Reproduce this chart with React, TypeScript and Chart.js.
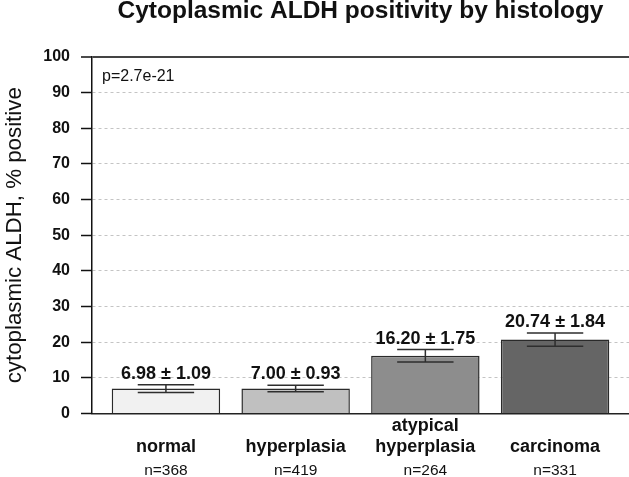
import { useEffect, useRef } from "react";
import { Chart, registerables } from "chart.js";

Chart.register(...registerables);

const chartTitle = "Cytoplasmic ALDH positivity by histology";
const yAxisTitle = "cytoplasmic ALDH, % positive";
const pValueText = "p=2.7e-21";

const categories = ["normal", "hyperplasia", "atypical hyperplasia", "carcinoma"];
const means = [6.98, 7.0, 16.2, 20.74];
const sems = [1.09, 0.93, 1.75, 1.84];
const counts = [368, 419, 264, 331];
const barColors = ["#f1f1f1", "#c0c0c0", "#8d8d8d", "#656565"];
const yMin = 0;
const yMax = 100;
const yStep = 10;

const FONT = "'Liberation Sans', Arial, Helvetica, sans-serif";

const positions = categories.map((_, i) => i + 1);

const categoryLines = (name: string) => {
  const parts = name.split(" ");
  return parts.length > 1 ? parts : ["", name];
};

const errorBarPlugin = {
  id: "errorBars",
  afterDatasetsDraw(chart: any) {
    const ctx = chart.ctx;
    const y = chart.scales.y;
    const meta = chart.getDatasetMeta(0);
    ctx.save();
    meta.data.forEach((el: any, i: number) => {
      const hi = y.getPixelForValue(means[i] + sems[i]);
      const lo = y.getPixelForValue(means[i] - sems[i]);
      const capW = el.width * 0.52;
      ctx.strokeStyle = "#2e2e2e";
      ctx.lineWidth = 1.5;
      ctx.beginPath();
      ctx.moveTo(el.x, hi);
      ctx.lineTo(el.x, lo);
      ctx.moveTo(el.x - capW / 2, hi);
      ctx.lineTo(el.x + capW / 2, hi);
      ctx.moveTo(el.x - capW / 2, lo);
      ctx.lineTo(el.x + capW / 2, lo);
      ctx.stroke();
      ctx.fillStyle = "#111";
      ctx.font = `bold 18px ${FONT}`;
      ctx.textAlign = "center";
      ctx.textBaseline = "alphabetic";
      ctx.fillText(`${means[i].toFixed(2)} ± ${sems[i].toFixed(2)}`, el.x, hi - 6);
    });
    const area = chart.chartArea;
    ctx.fillStyle = "#111";
    ctx.font = `16px ${FONT}`;
    ctx.textAlign = "left";
    ctx.textBaseline = "alphabetic";
    ctx.fillText(pValueText, area.left + 10, area.top + 24);

    // y axis title
    ctx.save();
    ctx.translate(15, (area.top + area.bottom) / 2);
    ctx.rotate(-Math.PI / 2);
    ctx.font = `22.3px ${FONT}`;
    ctx.textAlign = "center";
    ctx.textBaseline = "middle";
    ctx.fillText(yAxisTitle, 0, 0);
    ctx.restore();
    ctx.restore();
  },
};

export default function App() {
  const ref = useRef<HTMLCanvasElement | null>(null);

  useEffect(() => {
    document.body.style.margin = "0";
    if (!ref.current) return;
    Chart.defaults.font.family = FONT;
    const xMin = 0.43;
    const xMax = categories.length + 0.57;
    const chart = new Chart(ref.current, {
      type: "bar",
      data: {
        datasets: [
          {
            data: categories.map((_, i) => ({ x: positions[i], y: means[i] })),
            backgroundColor: barColors,
            borderColor: "#2a2a2a",
            borderWidth: 1.5,
            categoryPercentage: 1,
            barPercentage: 0.836,
          },
        ],
      },
      plugins: [errorBarPlugin],
      options: {
        responsive: false,
        animation: false,
        layout: { padding: { left: 0, right: 0, top: 0, bottom: 0 } },
        plugins: {
          legend: { display: false },
          tooltip: { enabled: false },
          title: {
            display: true,
            text: chartTitle,
            fullSize: false,
            color: "#111",
            font: { size: 24.5, weight: "bold", family: FONT, lineHeight: 0.9 },
            padding: { top: 0, bottom: 35 },
          },
        },
        scales: {
          x: {
            type: "linear",
            position: "bottom",
            offset: false,
            min: xMin,
            max: xMax,
            weight: 0,
            afterBuildTicks: (scale: any) => {
              scale.ticks = positions.map((v) => ({ value: v }));
            },
            afterFit: (scale: any) => {
              scale.height = 46;
            },
            grid: { display: false, drawTicks: false, offset: false },
            border: { display: true, color: "#222", width: 1.5 },
            ticks: {
              autoSkip: false,
              maxRotation: 0,
              padding: 1.5,
              color: "#111",
              font: { size: 18, weight: "bold", family: FONT, lineHeight: 1.2 },
              callback: (v: any) => categoryLines(categories[Number(v) - 1] ?? ""),
            },
          },
          x2: {
            type: "linear",
            position: "bottom",
            offset: false,
            min: xMin,
            max: xMax,
            weight: 1,
            afterBuildTicks: (scale: any) => {
              scale.ticks = positions.map((v) => ({ value: v }));
            },
            afterFit: (scale: any) => {
              scale.height = 17.5;
            },
            grid: { display: false, drawTicks: false, offset: false },
            border: { display: false },
            ticks: {
              autoSkip: false,
              maxRotation: 0,
              padding: 2,
              color: "#111",
              font: { size: 15.5, family: FONT, lineHeight: 1.2 },
              callback: (v: any) => `n=${counts[Number(v) - 1] ?? ""}`,
            },
          },
          y: {
            min: yMin,
            max: yMax,
            afterFit: (scale: any) => {
              scale.width = 92;
            },
            ticks: {
              stepSize: yStep,
              padding: 11,
              color: "#111",
              font: { size: 16, weight: "bold", family: FONT },
            },
            grid: {
              color: (c: any) =>
                c.tick && c.tick.value === yMax
                  ? "#444"
                  : c.tick && c.tick.value === yMin
                  ? "rgba(0,0,0,0)"
                  : "#c4c4c4",
              lineWidth: (c: any) => (c.tick && c.tick.value === yMax ? 2 : 1),
              tickLength: 11,
              tickColor: "#111",
              tickWidth: 1.5,
              tickBorderDash: [],
            },
            border: {
              display: true,
              color: "#111",
              width: 1.5,
              dash: (c: any) => (c.tick && c.tick.value === yMax ? [] : [3, 3]),
            },
          },
        },
      },
    } as any);
    return () => chart.destroy();
  }, []);

  return (
    <div style={{ width: 629, height: 477 }}>
      <canvas ref={ref} width={629} height={477} style={{ display: "block" }} />
    </div>
  );
}
